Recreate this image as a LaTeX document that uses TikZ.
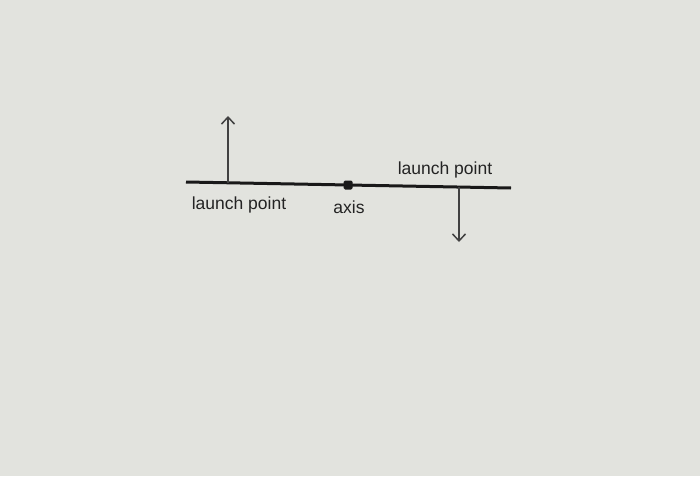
\documentclass[tikz,border=0pt]{standalone}
\usepackage{fontspec}
\setmainfont{Liberation Sans}
\usetikzlibrary{arrows.meta}
\definecolor{bg}{RGB}{226,227,222}
\definecolor{ink}{RGB}{25,25,25}
\definecolor{arr}{RGB}{65,65,65}
\definecolor{txt}{RGB}{35,35,35}
\tikzset{
  bar/.style={draw=ink, line width=3pt},
  force/.style={draw=arr, line width=1.5pt, -{Straight Barb[length=7pt,width=13pt,line width=1.5pt]}},
  lbl/.style={text=txt, font=\fontsize{17.5}{19}\selectfont, inner sep=0pt},
  pivot/.style={fill=ink, rounded corners=1.5pt, minimum size=9pt, inner sep=0pt}
}
\begin{document}
\begin{tikzpicture}[x=1pt,y=-1pt]
\fill[bg] (0,0) rectangle (700,476);
\useasboundingbox (0,0) rectangle (700,476);
\coordinate (L) at (186,182);
\coordinate (R) at (511,188);
\coordinate (P1) at (228,183);
\coordinate (P1t) at (228,116);
\coordinate (P2) at (459,187);
\coordinate (P2t) at (459,242);
\draw[bar] (L) -- (R);
\node[pivot] (ax) at (348,185) {};
\draw[force] (P1) -- (P1t);
\draw[force] (P2) -- (P2t);
\node[lbl] (l1) at (239,205) {launch point};
\node[lbl] (l2) at (349,207) {axis};
\node[lbl] (l3) at (445,170) {launch point};
\end{tikzpicture}
\end{document}
